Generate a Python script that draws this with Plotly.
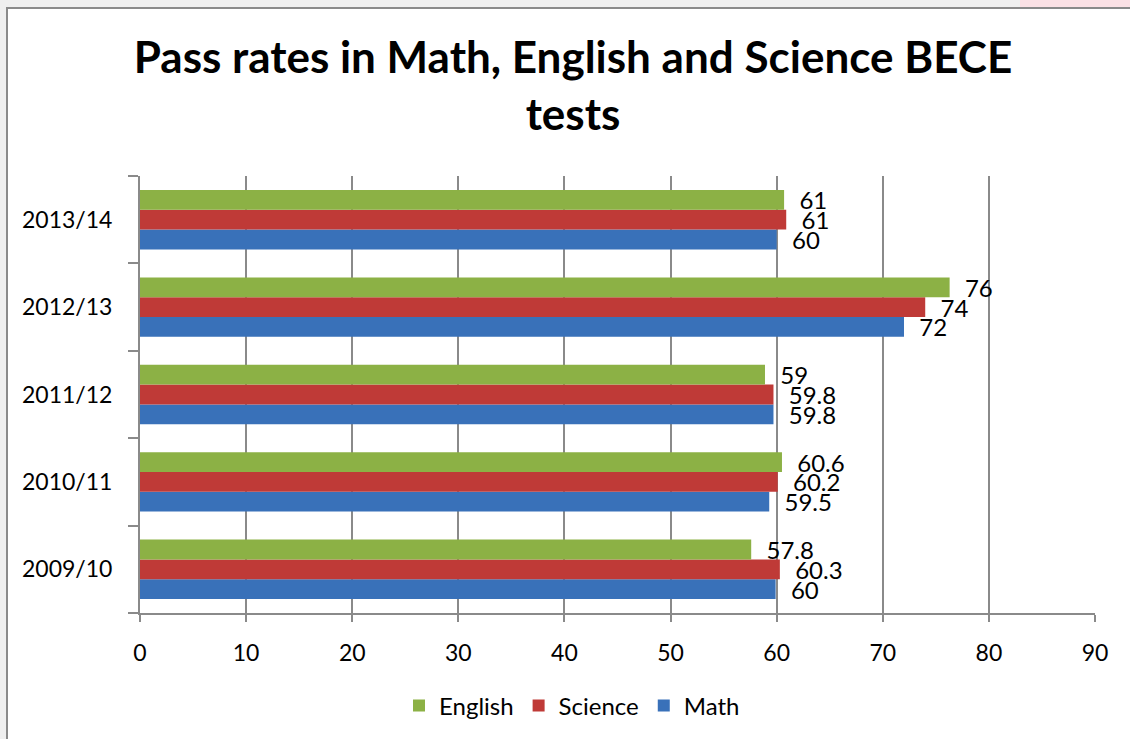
import plotly.graph_objects as go

years = ["2009/10", "2010/11", "2011/12", "2012/13", "2013/14"]
math_vals = [59.9, 59.3, 59.7, 72.0, 60.0]
science_vals = [60.3, 60.1, 59.7, 74.0, 60.9]
english_vals = [57.6, 60.5, 58.9, 76.3, 60.7]
math_labels = ["60", "59.5", "59.8", "72", "60"]
science_labels = ["60.3", "60.2", "59.8", "74", "61"]
english_labels = ["57.8", "60.6", "59", "76", "61"]
x_ticks = [0, 10, 20, 30, 40, 50, 60, 70, 80, 90]

W, H = 1130, 739
L, R, T, B = 140, 35, 176, 126
pw, ph = W - L - R, H - T - B

def px_x(p):
    return (p - L) / pw

def px_y(p):
    return (H - B - p) / ph

FONT = "Lato"
fig = go.Figure()
series = [
    ("Math", math_vals, math_labels, "#3971B9"),
    ("Science", science_vals, science_labels, "#BF3A37"),
    ("English", english_vals, english_labels, "#8CB145"),
]
for name, vals, labels, color in series:
    fig.add_trace(go.Bar(
        y=years, x=vals, name=name, orientation="h",
        marker=dict(color=color, line=dict(width=0)),
        text=labels, texttemplate="\u00a0\u00a0%{text}",
        textposition="outside", constraintext="none", cliponaxis=False,
        textfont=dict(family=FONT, size=24, color="#000000"),
        hoverinfo="skip",
    ))

fig.update_layout(
    width=W, height=H,
    margin=dict(l=L, r=R, t=T, b=B, autoexpand=False),
    paper_bgcolor="#efefef",
    plot_bgcolor="#ffffff",
    barmode="group", bargap=0.32, bargroupgap=0,
    font=dict(family=FONT, size=24, color="#000000"),
    title=dict(
        text="Pass rates in Math, English and Science BECE<br>tests",
        font=dict(family=FONT, size=44, color="#000000", weight="bold"),
        x=573 / W, xref="container", xanchor="center",
        y=1 - 73 / H, yref="container", yanchor="top",
    ),
    showlegend=True,
    legend=dict(
        orientation="h", traceorder="reversed",
        x=px_x(572), xanchor="center", y=px_y(706), yanchor="middle",
        font=dict(family=FONT, size=24, color="#000000"),
        bgcolor="rgba(0,0,0,0)",
    ),
    xaxis=dict(
        range=[0, 90], tickvals=x_ticks, ticktext=[str(v) for v in x_ticks],
        showgrid=True, gridcolor="#8a8a8a", gridwidth=2,
        showline=True, linecolor="#8a8a8a", linewidth=2,
        ticks="outside", ticklen=7, tickwidth=2, tickcolor="#8a8a8a",
        zeroline=False, ticklabelstandoff=11,
        tickfont=dict(family=FONT, size=23, color="#000000"),
        fixedrange=True,
    ),
    yaxis=dict(
        type="category", categoryorder="array", categoryarray=years,
        showgrid=False, showline=True, linecolor="#8a8a8a", linewidth=2,
        ticks="outside", tickson="boundaries", ticklen=10, tickwidth=2,
        tickcolor="#8a8a8a", ticklabelstandoff=21,
        tickfont=dict(family=FONT, size=23, color="#000000"),
        fixedrange=True,
    ),
    shapes=[
        dict(type="rect", xref="paper", yref="paper",
             x0=px_x(1020), x1=px_x(1135), y0=px_y(0), y1=px_y(7),
             fillcolor="#fbe1e5", line=dict(width=0), layer="below"),
        dict(type="rect", xref="paper", yref="paper",
             x0=px_x(7), x1=px_x(1140), y0=px_y(750), y1=px_y(8),
             fillcolor="#ffffff", line=dict(color="#8a8a8a", width=2),
             layer="below"),
    ],
)

fig.write_html(
    "out.html",
    config={"displayModeBar": False, "staticPlot": True},
    post_script="document.body.style.margin='0';document.body.style.overflow='hidden';",
)
